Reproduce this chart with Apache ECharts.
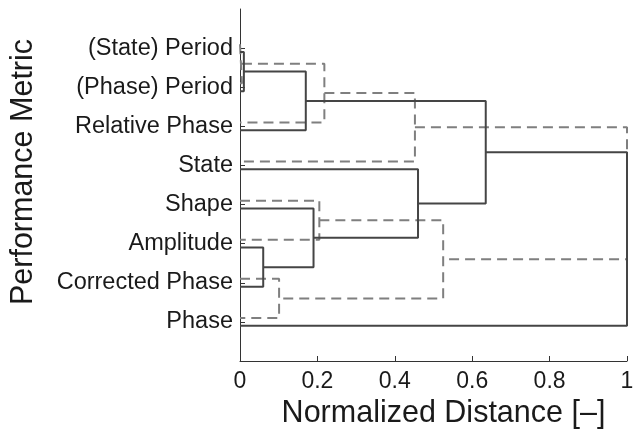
<!DOCTYPE html>
<html>
<head>
<meta charset="utf-8">
<script src="https://cdn.jsdelivr.net/npm/echarts@6/dist/echarts.min.js"></script>
<style>
html,body{margin:0;padding:0;background:#fff;}
#chart{width:641px;height:431px;}
</style>
</head>
<body>
<div id="chart"></div>
<script>
// Leaf labels, top to bottom
var categories = ['(State) Period', '(Phase) Period', 'Relative Phase', 'State', 'Shape', 'Amplitude', 'Corrected Phase', 'Phase'];
// x-axis tick labels
var xTicks = [0, 0.2, 0.4, 0.6, 0.8, 1];
// Linkage tables: [childA, childB, mergeDistance]; leaves are 0..7, new clusters 8, 9, ...
var solidLinks = [
  [0, 1, 0.01],
  [8, 2, 0.17],
  [5, 6, 0.06],
  [4, 10, 0.19],
  [3, 11, 0.46],
  [9, 12, 0.635],
  [13, 7, 1.0]
];
var dashedLinks = [
  [0, 1, 0.005],
  [8, 2, 0.218],
  [9, 3, 0.452],
  [4, 5, 0.205],
  [6, 7, 0.101],
  [11, 12, 0.525],
  [10, 13, 1.0]
];

function dendroPath(links, offset) {
  var n = categories.length;
  var ys = [], hs = [];
  for (var i = 0; i < n; i++) { ys.push(i + 1 + offset); hs.push(0); }
  var pts = [];
  links.forEach(function (l) {
    var a = l[0], b = l[1], h = l[2];
    pts.push([hs[a], ys[a]], [h, ys[a]], [h, ys[b]], [hs[b], ys[b]], '-');
    ys.push((ys[a] + ys[b]) / 2);
    hs.push(h);
  });
  return pts;
}

var chart = echarts.init(document.getElementById('chart'));
var font = 'Liberation Sans, Arial, Helvetica, sans-serif';
chart.setOption({
  animation: false,
  grid: { left: 240, right: 14, top: 9, bottom: 70, containLabel: false, outerBoundsMode: 'none' },
  xAxis: {
    type: 'value', min: 0, max: 1, interval: 0.2, position: 'bottom',
    name: 'Normalized Distance [\u2013]', nameLocation: 'middle', nameGap: 36,
    nameTextStyle: { fontSize: 30.5, color: '#1a1a1a', fontFamily: font, padding: [0, 0, 0, 20] },
    axisLine: { show: true, onZero: false, lineStyle: { color: '#333', width: 1 } },
    axisTick: { show: true, inside: true, length: 5, lineStyle: { color: '#333' } },
    axisLabel: { fontSize: 23, color: '#1a1a1a', fontFamily: font, margin: 9,
      formatter: function (v) { var r = Math.round(v * 10) / 10; return xTicks.indexOf(r) >= 0 ? String(r) : ''; } },
    splitLine: { show: false }
  },
  yAxis: {
    type: 'value', min: 0, max: 9, interval: 1, inverse: true,
    name: 'Performance Metric', nameLocation: 'middle', nameGap: 201,
    nameTextStyle: { fontSize: 30.5, color: '#1a1a1a', fontFamily: font, padding: [0, 0, 0, 26] },
    axisLine: { show: true, onZero: false, lineStyle: { color: '#333', width: 1 } },
    axisTick: { show: true, inside: true, length: 5, lineStyle: { color: '#333' },
      customValues: [1, 2, 3, 4, 5, 6, 7, 8] },
    axisLabel: { fontSize: 23.5, color: '#1a1a1a', fontFamily: font, margin: 7,
      customValues: [1, 2, 3, 4, 5, 6, 7, 8],
      formatter: function (v) { return categories[v - 1] || ''; } },
    splitLine: { show: false }
  },
  series: [
    {
      type: 'line', data: dendroPath(dashedLinks, -0.1), showSymbol: false, symbol: 'none',
      connectNulls: false, z: 2,
      lineStyle: { color: '#7f7f7f', width: 2, type: [10, 6] }
    },
    {
      type: 'line', data: dendroPath(solidLinks, 0.1), showSymbol: false, symbol: 'none',
      connectNulls: false, z: 3,
      lineStyle: { color: '#454545', width: 2, type: 'solid' }
    }
  ]
});
</script>
</body>
</html>
